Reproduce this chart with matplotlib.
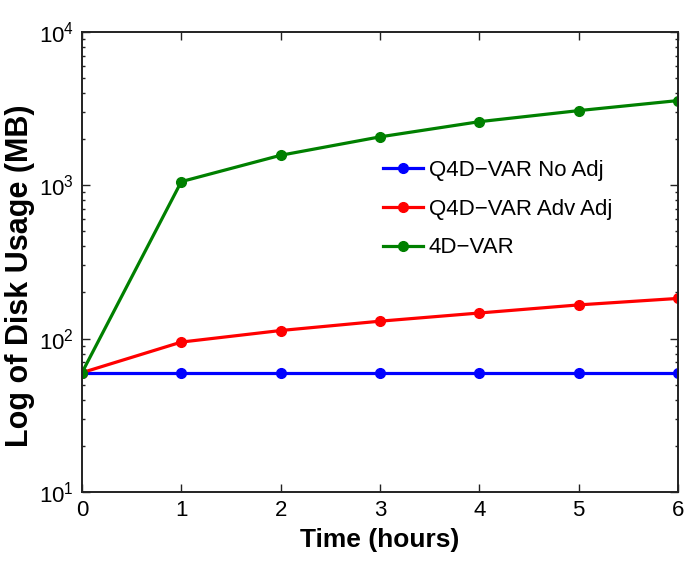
import matplotlib
matplotlib.use("Agg")
import matplotlib.pyplot as plt
from matplotlib.ticker import LogLocator, NullFormatter

plt.rcParams['font.family'] = ['Liberation Sans', 'DejaVu Sans']
plt.rcParams['mathtext.fontset'] = 'custom'
plt.rcParams['mathtext.rm'] = 'Liberation Sans'
plt.rcParams['mathtext.it'] = 'Liberation Sans'
plt.rcParams['mathtext.default'] = 'regular'

# Disk usage per hour of assimilation window
hours = [0, 1, 2, 3, 4, 5, 6]
q4d_no_adj = [60, 60, 60, 60, 60, 60, 60]
q4d_adv_adj = [60, 95, 113, 130, 147, 166, 183]
var4d = [60, 1057, 1570, 2070, 2600, 3070, 3570]
series_labels = ["Q4D\u2212VAR No Adj", "Q4D\u2212VAR Adv Adj", "4D\u2212VAR"]
series_colors = ["#0000ff", "#ff0000", "#008000"]

fig = plt.figure(figsize=(6.86, 5.61), dpi=100)
ax = fig.add_axes([0.1195, 0.123, 0.8688, 0.820])

for ys, lab, col in zip([q4d_no_adj, q4d_adv_adj, var4d], series_labels, series_colors):
    ax.plot(hours, ys, color=col, lw=2.3, marker='o', ms=7, label=lab)

ax.set_yscale('log')
ax.set_ylim(10, 1e4)
ax.set_xlim(0, 6)
ax.set_xticks(hours)
ax.yaxis.set_minor_locator(LogLocator(base=10, subs=range(2, 10)))
ax.yaxis.set_minor_formatter(NullFormatter())

for s in ax.spines.values():
    s.set_linewidth(1.4)
    s.set_color('#222222')

ax.tick_params(which='both', direction='in', top=True, right=True,
               labelsize=16, width=1.0, color='#222222')
ax.tick_params(which='major', length=6, pad=6)
ax.tick_params(which='minor', length=2.5)

ax.set_xlabel("Time (hours)", fontsize=19, fontweight='bold', labelpad=5)
ax.set_ylabel("Log of Disk Usage (MB)", fontsize=22, fontweight='bold')
ax.yaxis.set_label_coords(-0.078, 0.47)

ax.legend(loc='center left', bbox_to_anchor=(0.505, 0.615), frameon=False,
          fontsize=16, borderpad=0, borderaxespad=0, handlelength=1.8,
          handletextpad=0.25, labelspacing=0.8)

fig.savefig("out.png", dpi=100)
